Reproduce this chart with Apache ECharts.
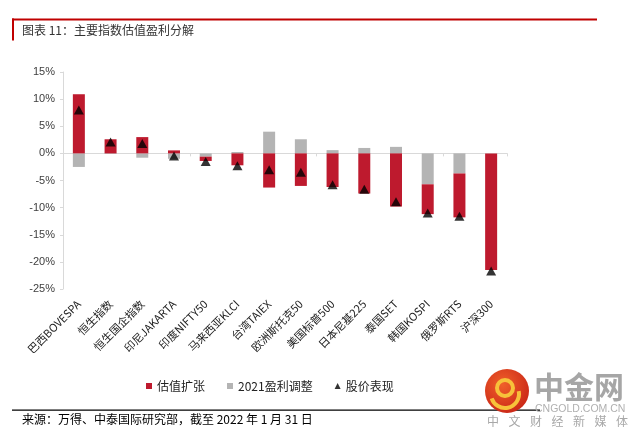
<!DOCTYPE html>
<html>
<head>
<meta charset="utf-8">
<script src="https://cdn.jsdelivr.net/npm/echarts@6/dist/echarts.min.js"></script>
<style>
html,body{margin:0;padding:0;background:#fff;}
#chart{width:640px;height:441px;}
</style>
</head>
<body>
<div id="chart"></div>
<script>
const categories = ['巴西BOVESPA','恒生指数','恒生国企指数','印尼JAKARTA','印度NIFTY50','马来西亚KLCI','台湾TAIEX','欧洲斯托克50','美国标普500','日本尼基225','泰国SET','韩国KOSPI','俄罗斯RTS','沪深300'];
const valuationExpansion = [10.9, 2.6, 3.0, 0.55, -0.8, -2.2, -6.3, -6.0, -6.2, -7.4, -9.8, -5.5, -8.1, -21.5];
const earningsRevision = [-2.5, -0.1, -0.8, -1.0, -0.6, 0.25, 4.0, 2.6, 0.6, 1.0, 1.2, -5.7, -3.7, 0];
const pricePerformance = [8.0, 2.1, 1.8, -0.5, -1.5, -2.3, -3.0, -3.5, -5.8, -6.6, -8.9, -11.0, -11.6, -21.7];
const yTicks = {min: -25, max: 15, interval: 5};

const chart = echarts.init(document.getElementById('chart'), null, {renderer: 'canvas'});
const latin = "'Liberation Sans', 'Noto Sans CJK SC', sans-serif";
const cjk = "'Noto Sans CJK SC', sans-serif";

const sloganChars = '中文财经新媒体'.split('');
const sloganGraphics = sloganChars.map((ch, i) => ({
  type: 'text', left: 487 + i * 21.5, top: 415,
  style: {text: ch, fontSize: 12, fill: '#a8a8a8', fontFamily: cjk}
}));

chart.setOption({
  animation: false,
  backgroundColor: '#fff',
  grid: {left: 63, right: 133, top: 72, bottom: 152, containLabel: false},
  legend: {
    left: 141, top: 375,
    itemWidth: 6, itemHeight: 6, itemGap: 22,
    textStyle: {fontSize: 12, color: '#222', fontFamily: cjk},
    data: [
      {name: '估值扩张', icon: 'rect'},
      {name: '2021盈利调整', icon: 'rect'},
      {name: '股价表现', icon: 'triangle'}
    ]
  },
  xAxis: [
    {
      type: 'category', data: categories, position: 'bottom',
      axisLine: {show: false, onZero: false}, axisTick: {show: false},
      axisLabel: {rotate: 45, interval: 0, margin: 13, fontSize: 11, color: '#222', fontFamily: cjk}
    },
    {
      type: 'category', data: categories, position: 'bottom',
      axisLine: {show: true, onZero: true, lineStyle: {color: '#d9d9d9', width: 1}},
      axisTick: {show: true, length: 3, lineStyle: {color: '#d9d9d9'}},
      axisLabel: {show: false}
    }
  ],
  yAxis: {
    type: 'value', min: yTicks.min, max: yTicks.max, interval: yTicks.interval,
    axisLine: {show: true, lineStyle: {color: '#d9d9d9'}},
    axisTick: {show: true, length: 3, lineStyle: {color: '#d9d9d9'}},
    splitLine: {show: false},
    axisLabel: {formatter: '{value}%', fontSize: 11, color: '#404040', fontFamily: latin, margin: 8}
  },
  series: [
    {
      name: '2021盈利调整', type: 'bar', stack: 'total', xAxisIndex: 0,
      barWidth: 12, itemStyle: {color: '#b4b4b4'}, data: earningsRevision
    },
    {
      name: '估值扩张', type: 'bar', stack: 'total', xAxisIndex: 0,
      barWidth: 12, itemStyle: {color: '#be1a2e'}, data: valuationExpansion
    },
    {
      name: '股价表现', type: 'scatter', xAxisIndex: 0, symbol: 'triangle', symbolSize: [10, 9],
      itemStyle: {color: '#000'}, data: pricePerformance, z: 5
    }
  ],
  graphic: [
    {type: 'rect', shape: {x: 12, y: 18.5, width: 585, height: 2}, style: {fill: '#c00000'}},
    {type: 'rect', shape: {x: 12, y: 18.5, width: 2, height: 22}, style: {fill: '#c00000'}},
    {type: 'text', left: 22, top: 24, style: {text: '图表 11：主要指数估值盈利分解', fontSize: 12, fill: '#333', fontFamily: cjk}},
    {type: 'rect', shape: {x: 12, y: 409.5, width: 528, height: 1.2}, style: {fill: '#000'}},
    {type: 'text', left: 22, top: 413, style: {text: '来源：万得、中泰国际研究部，截至 2022 年 1 月 31 日', fontSize: 12, fill: '#000', fontFamily: cjk}},
    {type: 'circle', shape: {cx: 507, cy: 391, r: 22}, style: {fill: new echarts.graphic.RadialGradient(0.4, 0.35, 0.8, [{offset: 0, color: '#f0602a'}, {offset: 1, color: '#c41e14'}])}},
    {type: 'arc', shape: {cx: 505, cy: 388, r: 8, startAngle: 0, endAngle: Math.PI * 2}, style: {stroke: '#f7c23a', lineWidth: 4, fill: null}},
    {type: 'arc', shape: {cx: 505, cy: 394, r: 14, startAngle: -0.2, endAngle: Math.PI * 0.9}, style: {stroke: '#f7c23a', lineWidth: 4, fill: null}},
    {type: 'text', left: 534, top: 372, style: {text: '中金网', fontSize: 30, fontWeight: 'bold', fill: '#a6a6a6', fontFamily: cjk}},
    {type: 'text', left: 535, top: 404, style: {text: 'CNGOLD.COM.CN', fontSize: 10.5, fill: '#b0b0b0', fontFamily: latin}}
  ].concat(sloganGraphics)
});
</script>
</body>
</html>
